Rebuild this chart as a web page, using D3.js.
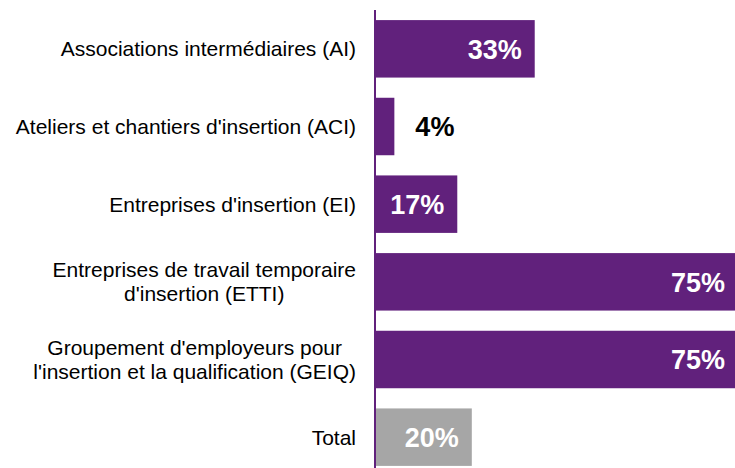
<!DOCTYPE html>
<html>
<head>
<meta charset="utf-8">
<script src="https://cdn.jsdelivr.net/npm/d3@7"></script>
<style>
  body{margin:0;background:#fff;}
  svg{display:block;font-family:"Liberation Sans",Arial,sans-serif;}
</style>
</head>
<body>
<div id="chart"></div>
<script>
const categories = [
  ["Associations intermédiaires (AI)"],
  ["Ateliers et chantiers d'insertion (ACI)"],
  ["Entreprises d'insertion (EI)"],
  ["Entreprises de travail temporaire", "d'insertion (ETTI)"],
  ["Groupement d'employeurs pour", "l'insertion et la qualification (GEIQ)"],
  ["Total"]
];
const values = [33, 4, 17, 75, 75, 20];
const is_total = [false, false, false, false, false, true];

const WIDTH = 735, HEIGHT = 468;
const PURPLE = "#61217c", GREY = "#a6a6a6";
const AXIS_X = 375;

const svg = d3.select("#chart").append("svg")
  .attr("width", WIDTH).attr("height", HEIGHT);

const x = d3.scaleLinear().domain([0, 75]).range([AXIS_X, 738]);
const y = d3.scaleBand()
  .domain(d3.range(values.length))
  .range([10, 476])
  .paddingInner(0.26)
  .paddingOuter(0.13);

svg.append("g").selectAll("rect")
  .data(values)
  .join("rect")
    .attr("x", x(0))
    .attr("y", (d, i) => y(i))
    .attr("width", d => x(d) - x(0))
    .attr("height", y.bandwidth())
    .attr("fill", (d, i) => is_total[i] ? GREY : PURPLE);

// value labels: inside the bar in white, outside in black when the bar is too short
svg.append("g").selectAll("text")
  .data(values)
  .join("text")
    .attr("y", (d, i) => y(i) + y.bandwidth() / 2)
    .attr("dy", "0.36em")
    .attr("font-size", 27)
    .attr("font-weight", "bold")
    .each(function(d, i){
      const t = d3.select(this).text(d + "%");
      if (x(d) - x(0) < 60) {
        t.attr("x", x(d) + 21).attr("text-anchor", "start").attr("fill", "#000");
      } else {
        t.attr("x", x(d) - 13).attr("text-anchor", "end").attr("fill", "#fff");
      }
    });

// category labels, multi-line blocks centred on themselves and right-aligned as a block
const LABEL_RIGHT = 356;
const LINE_H = 24.5;
svg.append("g").selectAll("g.cat")
  .data(categories)
  .join("g")
    .attr("class", "cat")
    .each(function(lines, i){
      const g = d3.select(this);
      const cy = y(i) + y.bandwidth() / 2;
      const texts = g.selectAll("text")
        .data(lines)
        .join("text")
          .attr("font-size", 21)
          .attr("fill", "#000")
          .attr("y", (l, j) => cy + (j - (lines.length - 1) / 2) * LINE_H)
          .attr("dy", "0.35em")
          .text(l => l);
      let maxw = 0;
      texts.each(function(){ maxw = Math.max(maxw, this.getComputedTextLength()); });
      texts.attr("text-anchor", "middle").attr("x", LABEL_RIGHT - maxw / 2);
    });

// vertical axis line
svg.append("line")
  .attr("x1", AXIS_X).attr("x2", AXIS_X)
  .attr("y1", 10).attr("y2", HEIGHT)
  .attr("stroke", PURPLE)
  .attr("stroke-width", 2);
</script>
</body>
</html>
